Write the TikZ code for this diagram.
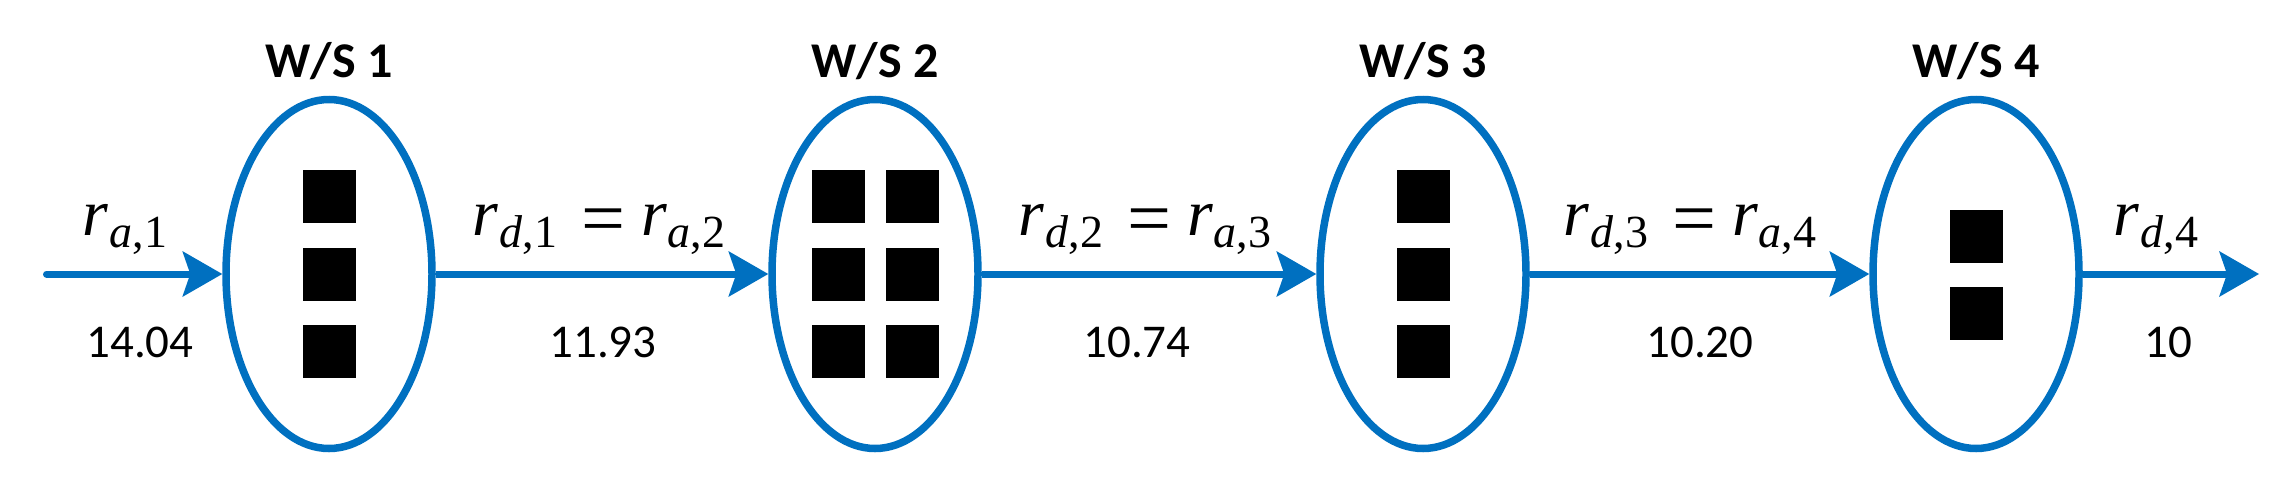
\documentclass[tikz,border=0pt]{standalone}
\usepackage{fontspec}
\setmainfont{Liberation Serif}
\newfontfamily\carlito{Carlito}
\newfontfamily\tnr{Liberation Serif}
\usetikzlibrary{shapes.geometric,arrows.meta}
\definecolor{flowblue}{RGB}{0,112,192}
\newcommand\rr[2]{{\tnr\itshape r}\kern1pt\raisebox{-12pt}{\tnr\fontsize{46}{46}\selectfont{\itshape #1},#2}}
\newcommand\eqsign{\kern24pt\raisebox{-9pt}{\fontsize{78}{78}\selectfont=}\kern16pt}
\tikzset{
 ws/.style={ellipse,draw=flowblue,line width=7.5pt,minimum width=206pt,minimum height=349pt,inner sep=0pt},
 blk/.style={fill=black,minimum width=53pt,minimum height=53pt,inner sep=0pt,outer sep=0pt},
 flow/.style={draw=flowblue,line width=7pt,-{Stealth[length=40pt,width=46pt,inset=8pt,line width=0pt]}},
 title/.style={font=\carlito\bfseries\fontsize{50}{50}\selectfont,anchor=base,inner sep=0pt},
 val/.style={font=\carlito\fontsize{47}{47}\selectfont,anchor=base,inner sep=0pt},
 rate/.style={font=\tnr\fontsize{66}{66}\selectfont,anchor=base,inner sep=0pt},
}
\begin{document}
\begin{tikzpicture}[x=1pt,y=-1pt]
\useasboundingbox (0,0) rectangle (2291,493);
\node[ws] (e1) at (329,274) {};
\node[ws] (e2) at (875,274) {};
\node[ws] (e3) at (1423,274) {};
\node[ws] (e4) at (1976,274) {};
\foreach \y [count=\i] in {196.5,274,351.5} {
  \node[blk] (a\i) at (329,\y) {};
  \node[blk] (bl\i) at (838,\y) {};
  \node[blk] (br\i) at (912,\y) {};
  \node[blk] (c\i) at (1423,\y) {};
}
\node[blk] (d1) at (1976,236) {};
\node[blk] (d2) at (1976,313) {};
\coordinate (in) at (46.5,274);
\coordinate (out) at (2259,274);
\draw[flow,line cap=round] (in) -- (e1.west);
\draw[flow] (e1.east) -- (e2.west);
\draw[flow] (e2.east) -- (e3.west);
\draw[flow] (e3.east) -- (e4.west);
\draw[flow] (e4.east) -- (out);
\node[title] (t1) at (329,77) {W/S 1};
\node[title] (t2) at (875,77) {W/S 2};
\node[title] (t3) at (1423,77) {W/S 3};
\node[title] (t4) at (1976,77) {W/S 4};
\node[rate] (l0) at (125,235) {\rr{a}{1}};
\node[rate] (l1) at (599,235) {\rr{d}{1}\eqsign\rr{a}{2}};
\node[rate] (l2) at (1145,235) {\rr{d}{2}\eqsign\rr{a}{3}};
\node[rate] (l3) at (1690,235) {\rr{d}{3}\eqsign\rr{a}{4}};
\node[rate] (l4) at (2156,235) {\rr{d}{4}};
\node[val] (v0) at (140,357) {14.04};
\node[val] (v1) at (603,357) {11.93};
\node[val] (v2) at (1137,357) {10.74};
\node[val] (v3) at (1700,357) {10.20};
\node[val] (v4) at (2168,357) {10};
\end{tikzpicture}
\end{document}
